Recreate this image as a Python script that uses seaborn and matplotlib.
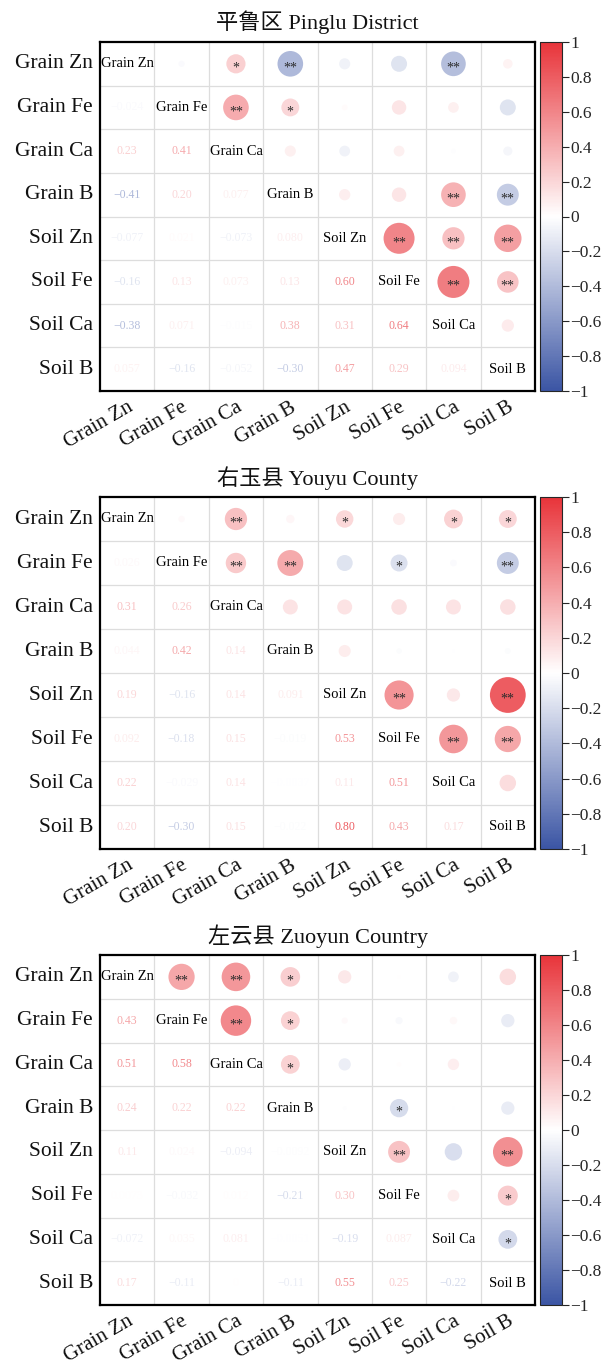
import numpy as np
import pandas as pd
import matplotlib
matplotlib.use("Agg")
import matplotlib.pyplot as plt
import seaborn as sns
from matplotlib.colors import LinearSegmentedColormap, ListedColormap, Normalize
from matplotlib.cm import ScalarMappable

variables = ["Grain Zn", "Grain Fe", "Grain Ca", "Grain B",
             "Soil Zn", "Soil Fe", "Soil Ca", "Soil B"]

titles = ["平鲁区 Pinglu District", "右玉县 Youyu County", "左云县 Zuoyun Country"]

# lower triangle of each correlation matrix, row by row
pinglu_lower = [
    [],
    [-0.024],
    [0.23, 0.41],
    [-0.41, 0.20, 0.077],
    [-0.077, 0.021, -0.073, 0.080],
    [-0.16, 0.13, 0.073, 0.13, 0.60],
    [-0.38, 0.071, -0.015, 0.38, 0.31, 0.64],
    [0.057, -0.16, -0.052, -0.30, 0.47, 0.29, 0.094],
]
youyu_lower = [
    [],
    [0.026],
    [0.31, 0.26],
    [0.044, 0.42, 0.14],
    [0.19, -0.16, 0.14, 0.091],
    [0.092, -0.18, 0.15, -0.019, 0.53],
    [0.22, -0.029, 0.14, -0.0037, 0.11, 0.51],
    [0.20, -0.30, 0.15, -0.022, 0.80, 0.43, 0.17],
]
zuoyun_lower = [
    [],
    [0.43],
    [0.51, 0.58],
    [0.24, 0.22, 0.22],
    [0.11, 0.024, -0.094, -0.0092],
    [0.0073, -0.032, 0.012, -0.21, 0.30],
    [-0.072, 0.035, 0.081, -0.0051, -0.19, 0.087],
    [0.17, -0.11, 0.0, -0.11, 0.55, 0.25, -0.22],
]

# significance marks in the upper triangle (row, col, mark)
pinglu_stars = [(0, 2, "*"), (0, 3, "**"), (0, 6, "**"), (1, 2, "**"), (1, 3, "*"),
                (3, 6, "**"), (3, 7, "**"), (4, 5, "**"), (4, 6, "**"), (4, 7, "**"),
                (5, 6, "**"), (5, 7, "**")]
youyu_stars = [(0, 2, "**"), (0, 4, "*"), (0, 6, "*"), (0, 7, "*"), (1, 2, "**"),
               (1, 3, "**"), (1, 5, "*"), (1, 7, "**"), (4, 5, "**"), (4, 7, "**"),
               (5, 6, "**"), (5, 7, "**")]
zuoyun_stars = [(0, 1, "**"), (0, 2, "**"), (0, 3, "*"), (1, 2, "**"), (1, 3, "*"),
                (2, 3, "*"), (3, 5, "*"), (4, 5, "**"), (4, 7, "**"), (5, 7, "*"),
                (6, 7, "*")]

SERIF = ["Liberation Serif", "Noto Sans CJK SC", "DejaVu Sans"]
cmap = LinearSegmentedColormap.from_list("bwr_corr", ["#3B55A4", "#FFFFFF", "#E8343A"])
norm = Normalize(-1, 1)


def full_matrix(lower):
    n = len(lower)
    m = np.eye(n)
    for i, row in enumerate(lower):
        for j, v in enumerate(row):
            m[i, j] = v
            m[j, i] = v
    return m


def fmt(v):
    if v == 0:
        return "0"
    if abs(v) >= 0.1:
        return f"{v:.2f}".replace("-", "\u2212")
    n = 1 - int(np.floor(np.log10(abs(v))))
    return f"{v:.{n}f}".replace("-", "\u2212")


def draw_panel(fig, rect, lower, stars, title):
    ax = fig.add_axes(rect)
    corr = full_matrix(lower)
    n = len(variables)
    sns.heatmap(np.zeros((n, n)), cmap=ListedColormap(["white"]), cbar=False,
                linewidths=0, ax=ax)
    ax.hlines(np.arange(1, n), 0, n, color="#dddddd", linewidth=0.9, zorder=1)
    ax.vlines(np.arange(1, n), 0, n, color="#dddddd", linewidth=0.9, zorder=1)

    # circles in the upper triangle
    rows = []
    for i in range(n):
        for j in range(i + 1, n):
            rows.append({"x": j + 0.5, "y": i + 0.5, "r": corr[i, j], "absr": abs(corr[i, j])})
    up = pd.DataFrame(rows)
    sns.scatterplot(data=up, x="x", y="y", hue="r", palette=cmap, hue_norm=(-1, 1),
                    size="absr", sizes=(0, 830), size_norm=(0, 1), linewidth=0,
                    legend=False, ax=ax, zorder=3)
    for i, j, s in stars:
        ax.text(j + 0.5, i + 0.6, s, ha="center", va="center", fontsize=10,
                color="#2b2b2b", family=SERIF, zorder=4)

    # numbers in the lower triangle, names on the diagonal
    for i in range(n):
        for j in range(i):
            v = corr[i, j]
            ax.text(j + 0.5, i + 0.5, fmt(v), ha="center", va="center", fontsize=8.5,
                    color=cmap(norm(v)), family=SERIF, zorder=4)
        ax.text(i + 0.5, i + 0.5, variables[i], ha="center", va="center",
                fontsize=10.5, color="black", family=SERIF, zorder=4)

    ax.set_xlim(0, n)
    ax.set_ylim(n, 0)
    ax.set_xlabel("")
    ax.set_ylabel("")
    ax.set_xticks(np.arange(n) + 0.5)
    ax.set_yticks(np.arange(n) + 0.5)
    ax.set_xticklabels(variables, rotation=30, ha="right", rotation_mode="anchor",
                       fontsize=15, color="#111111", family=SERIF)
    ax.set_yticklabels(variables, rotation=0, fontsize=15.5, color="#111111", family=SERIF)
    ax.tick_params(length=0, pad=5)
    for sp in ax.spines.values():
        sp.set_visible(True)
        sp.set_linewidth(1.6)
        sp.set_color("black")
    ax.set_title(title, fontsize=16, color="#111111", family=SERIF, pad=9)

    # colorbar on the right
    x0, y0, w, h = rect
    cax = fig.add_axes([0.881, y0, 0.036, h])
    ticks = np.linspace(-1, 1, 11)
    cb = fig.colorbar(ScalarMappable(norm=norm, cmap=cmap), cax=cax, ticks=ticks)
    cb.ax.set_yticklabels([f"{t:g}".replace("-", "\u2212") if abs(t) > 1e-9 else "0" for t in ticks],
                          fontsize=12.5, family=SERIF)
    cb.ax.tick_params(length=5, width=0.8, pad=1)
    cb.outline.set_linewidth(0.8)


def main():
    sns.set_theme(style="white")
    plt.rcParams["font.family"] = SERIF
    plt.rcParams["axes.unicode_minus"] = True
    fig = plt.figure(figsize=(6.13, 13.68), dpi=100)
    fig.patch.set_facecolor("white")

    H = 1368.0
    panels = [
        (42, 391, pinglu_lower, pinglu_stars, titles[0]),
        (497, 849, youyu_lower, youyu_stars, titles[1]),
        (955, 1305, zuoyun_lower, zuoyun_stars, titles[2]),
    ]
    for top, bottom, lower, stars, title in panels:
        rect = [100 / 613, 1 - bottom / H, 435 / 613, (bottom - top) / H]
        draw_panel(fig, rect, lower, stars, title)

    fig.savefig("out.png", dpi=100, facecolor="white")


if __name__ == "__main__":
    main()
